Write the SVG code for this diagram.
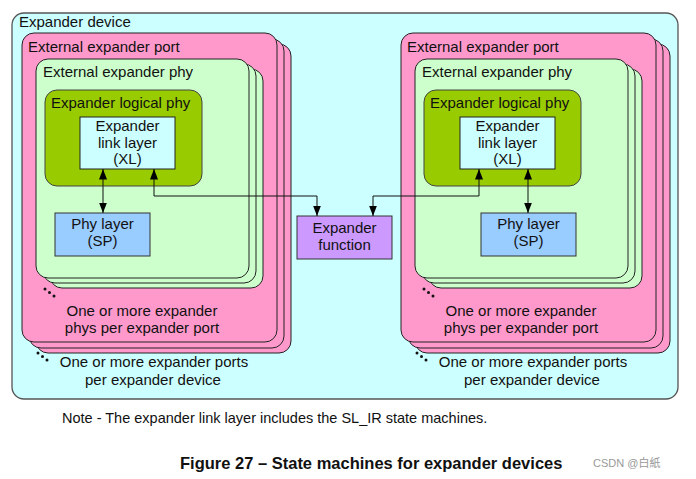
<svg xmlns="http://www.w3.org/2000/svg" width="696" height="479" viewBox="0 0 696 479">
<defs>
<style>
text{font-family:"Liberation Sans",Arial,sans-serif;font-size:15px;fill:#111}
.dev{fill:#CCFFFF;stroke:#555;stroke-width:1.3}
.port{fill:#FF99CC;stroke:#222;stroke-width:1}
.phy{fill:#CCFFCC;stroke:#222;stroke-width:1}
.lphy{fill:#99CC00;stroke:#444;stroke-width:1}
.xl{fill:#CCFFFF;stroke:#222;stroke-width:1}
.sp{fill:#99CCFF;stroke:#333;stroke-width:1}
.fn{fill:#CC99FF;stroke:#333;stroke-width:1}
.c{fill:none;stroke:#111;stroke-width:1;marker-start:url(#ah);marker-end:url(#ah)}
.mid{text-anchor:middle}
.dot{fill:#111}
</style>
<marker id="ah" markerUnits="userSpaceOnUse" markerWidth="12" markerHeight="9" refX="10.5" refY="4.5" orient="auto-start-reverse">
<path d="M0,0.5 L10.5,4.5 L0,8.5 z" fill="#000"/>
</marker>
</defs>
<g id="expander-device">
<rect class="dev" x="12" y="13" width="666" height="386" rx="12"/>
<text x="19" y="27">Expander device</text>
</g>
<g id="left-port">
<rect class="port" x="36" y="44" width="255" height="309" rx="12"/>
<rect class="port" x="29" y="39" width="255" height="309" rx="12"/>
<rect class="port" x="22" y="33" width="255" height="309" rx="12"/>
<text x="28" y="52">External expander port</text>
<text class="mid" x="142" y="316">One or more expander</text>
<text class="mid" x="142" y="333">phys per expander port</text>
</g>
<g id="left-phy">
<rect class="phy" x="50" y="69" width="213" height="219" rx="12"/>
<rect class="phy" x="43" y="64" width="213" height="219" rx="12"/>
<rect class="phy" x="36" y="59" width="213" height="219" rx="12"/>
<text x="43" y="77">External expander phy</text>
</g>
<g id="left-logical-phy">
<rect class="lphy" x="45" y="90" width="157" height="96" rx="12"/>
<text x="51" y="108">Expander logical phy</text>
</g>
<g id="left-xl">
<rect class="xl" x="80" y="117" width="95" height="52"/>
<text class="mid" x="127.5" y="131">Expander</text>
<text class="mid" x="127.5" y="148">link layer</text>
<text class="mid" x="127.5" y="164">(XL)</text>
</g>
<g id="left-sp">
<rect class="sp" x="55" y="213" width="95" height="43"/>
<text class="mid" x="102.5" y="229">Phy layer</text>
<text class="mid" x="102.5" y="246">(SP)</text>
</g>
<g id="left-ellipsis">
<circle class="dot" cx="45" cy="289" r="1.5"/><circle class="dot" cx="49.5" cy="292.5" r="1.5"/><circle class="dot" cx="54" cy="296" r="1.5"/>
<circle class="dot" cx="38" cy="353" r="1.5"/><circle class="dot" cx="42.5" cy="356.5" r="1.5"/><circle class="dot" cx="47" cy="360" r="1.5"/>
<text class="mid" x="154" y="367">One or more expander ports</text>
<text class="mid" x="153" y="385">per expander device</text>
</g>
<g id="right-port">
<rect class="port" x="415" y="44" width="255" height="309" rx="12"/>
<rect class="port" x="408" y="39" width="255" height="309" rx="12"/>
<rect class="port" x="401" y="33" width="255" height="309" rx="12"/>
<text x="407" y="52">External expander port</text>
<text class="mid" x="521" y="316">One or more expander</text>
<text class="mid" x="521" y="333">phys per expander port</text>
</g>
<g id="right-phy">
<rect class="phy" x="429" y="69" width="213" height="219" rx="12"/>
<rect class="phy" x="422" y="64" width="213" height="219" rx="12"/>
<rect class="phy" x="415" y="59" width="213" height="219" rx="12"/>
<text x="422" y="77">External expander phy</text>
</g>
<g id="right-logical-phy">
<rect class="lphy" x="424" y="90" width="157" height="96" rx="12"/>
<text x="430" y="108">Expander logical phy</text>
</g>
<g id="right-xl">
<rect class="xl" x="460" y="117" width="95" height="52"/>
<text class="mid" x="507.5" y="131">Expander</text>
<text class="mid" x="507.5" y="148">link layer</text>
<text class="mid" x="507.5" y="164">(XL)</text>
</g>
<g id="right-sp">
<rect class="sp" x="481" y="213" width="95" height="43"/>
<text class="mid" x="528.5" y="229">Phy layer</text>
<text class="mid" x="528.5" y="246">(SP)</text>
</g>
<g id="right-ellipsis">
<circle class="dot" cx="424" cy="289" r="1.5"/><circle class="dot" cx="428.5" cy="292.5" r="1.5"/><circle class="dot" cx="433" cy="296" r="1.5"/>
<circle class="dot" cx="417" cy="353" r="1.5"/><circle class="dot" cx="421.5" cy="356.5" r="1.5"/><circle class="dot" cx="426" cy="360" r="1.5"/>
<text class="mid" x="533" y="367">One or more expander ports</text>
<text class="mid" x="532" y="385">per expander device</text>
</g>
<g id="expander-function">
<rect class="fn" x="297" y="216" width="95" height="43"/>
<text class="mid" x="344.5" y="233">Expander</text>
<text class="mid" x="344.5" y="250">function</text>
</g>
<g id="connectors">
<path class="c" d="M103,169 V213"/>
<path class="c" d="M154,169 V196 H317 V216"/>
<path class="c" d="M528,169 V213"/>
<path class="c" d="M479,169 V196 H373 V216"/>
</g>
<g id="notes">
<text x="62" y="423" style="font-size:14.5px">Note - The expander link layer includes the SL_IR state machines.</text>
<text x="180" y="469" style="font-size:16.5px;font-weight:bold">Figure 27 – State machines for expander devices</text>
<text x="593" y="467" style="font-size:11px;fill:#999;font-family:'Liberation Sans','Noto Sans CJK SC',sans-serif">CSDN @白紙</text>
</g>
</svg>
